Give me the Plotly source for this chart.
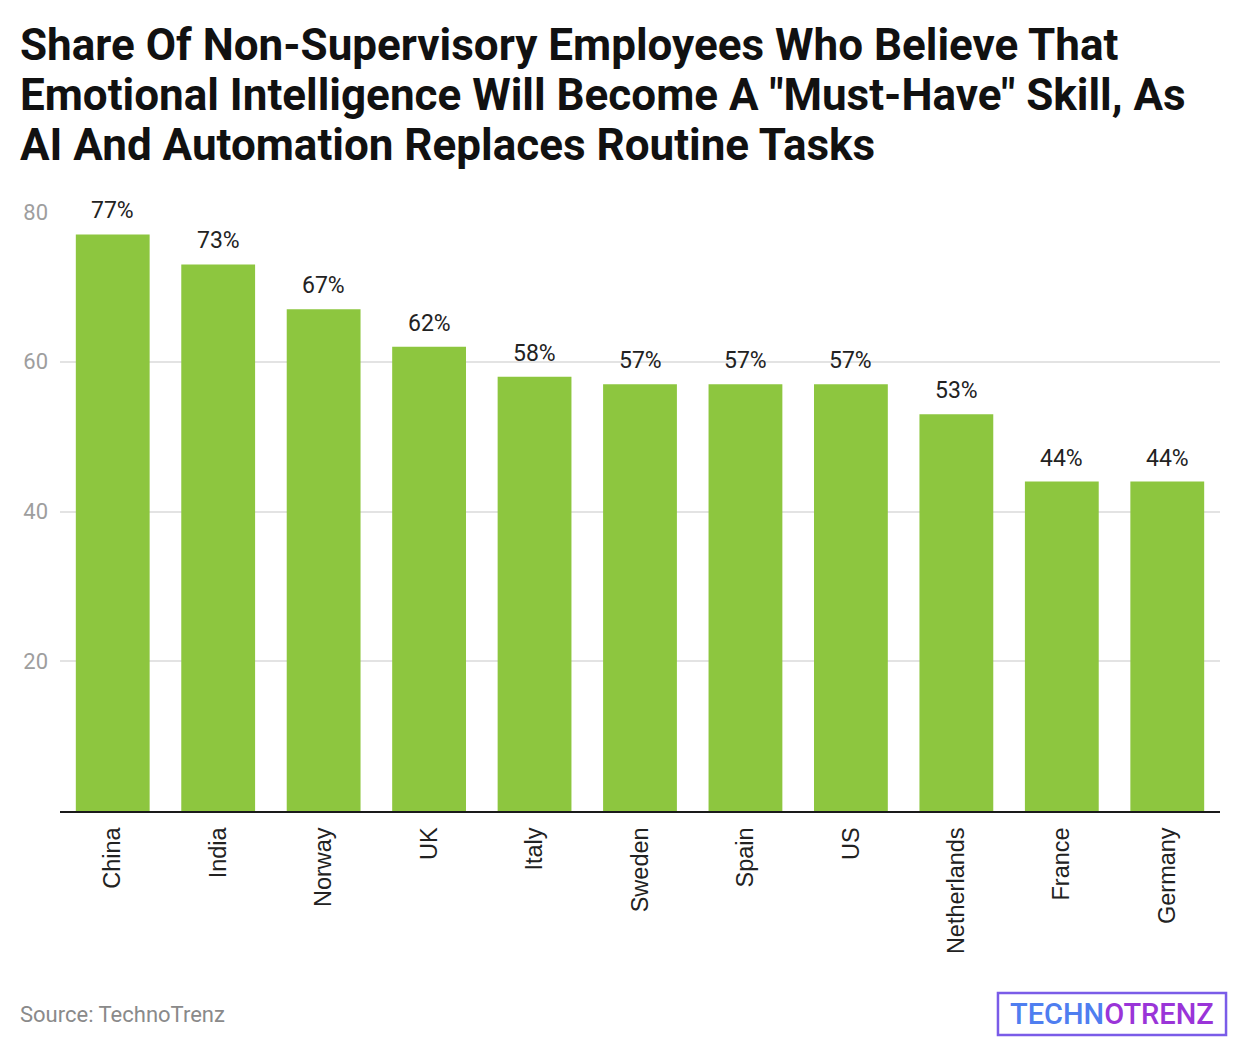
import plotly.graph_objects as go

countries = ["China", "India", "Norway", "UK", "Italy", "Sweden", "Spain", "US",
             "Netherlands", "France", "Germany"]
shares = [77, 73, 67, 62, 58, 57, 57, 57, 53, 44, 44]
y_ticks = [20, 40, 60, 80]
title_lines = [
    "Share Of Non-Supervisory Employees Who Believe That",
    "Emotional Intelligence Will Become A \"Must-Have\" Skill, As",
    "AI And Automation Replaces Routine Tasks",
]

fig = go.Figure()
fig.add_trace(go.Bar(
    x=countries, y=shares,
    marker_color="#8dc63f",
    marker_line_width=0,
))

for c, v in zip(countries, shares):
    fig.add_annotation(
        x=c, y=v, text=f"{v}%", showarrow=False,
        xanchor="center", yanchor="bottom", yshift=8,
        font=dict(family="Roboto", size=23, color="#222222"),
    )

fig.update_layout(
    width=1240, height=1048,
    paper_bgcolor="white", plot_bgcolor="white",
    margin=dict(l=52, r=28, t=204, b=245),
    bargap=0.3,
    showlegend=False,
    font=dict(family="Roboto"),
)
fig.update_yaxes(
    range=[0, 80], tickvals=y_ticks,
    showgrid=True, gridcolor="#e3e3e3", gridwidth=1.5,
    zeroline=False, showline=False,
    tickfont=dict(family="Roboto", size=22, color="#9e9e9e"),
    ticks="", ticklabelstandoff=11,
)
fig.update_xaxes(
    tickangle=-90,
    tickfont=dict(family="Liberation Sans", size=23.5, color="#222222"),
    showline=True, linecolor="#1a1a1a", linewidth=2,
    ticks="", ticklabelstandoff=5,
)

title_y = [1.2788, 1.1953, 1.1119]
for line, yy in zip(title_lines, title_y):
    fig.add_annotation(
        text=line, xref="paper", yref="paper", x=-0.0362, y=yy,
        xanchor="left", yanchor="middle", showarrow=False,
        font=dict(family="Roboto", size=44, color="#111111", weight="bold"),
    )

fig.add_annotation(
    text="Source: TechnoTrenz", xref="paper", yref="paper",
    x=-0.0362, y=-0.3389, xanchor="left", yanchor="middle", showarrow=False,
    font=dict(family="Roboto", size=22, color="#8a8a8a"),
)
# logo approximation
fig.add_shape(type="rect", xref="paper", yref="paper",
              x0=0.8086, x1=1.0052, y0=-0.374, y1=-0.3038,
              line=dict(color="#7a5ce8", width=2.5), fillcolor="rgba(0,0,0,0)",
              layer="above")
fig.add_annotation(
    text="<span style='color:#4f7ef0'>TECHN</span><span style='color:#9a34d8'>OTRENZ</span>",
    xref="paper", yref="paper", x=0.9069, y=-0.3389,
    xanchor="center", yanchor="middle", showarrow=False,
    font=dict(family="Roboto", size=29, weight=500),
)

fig.write_html("out.html")
